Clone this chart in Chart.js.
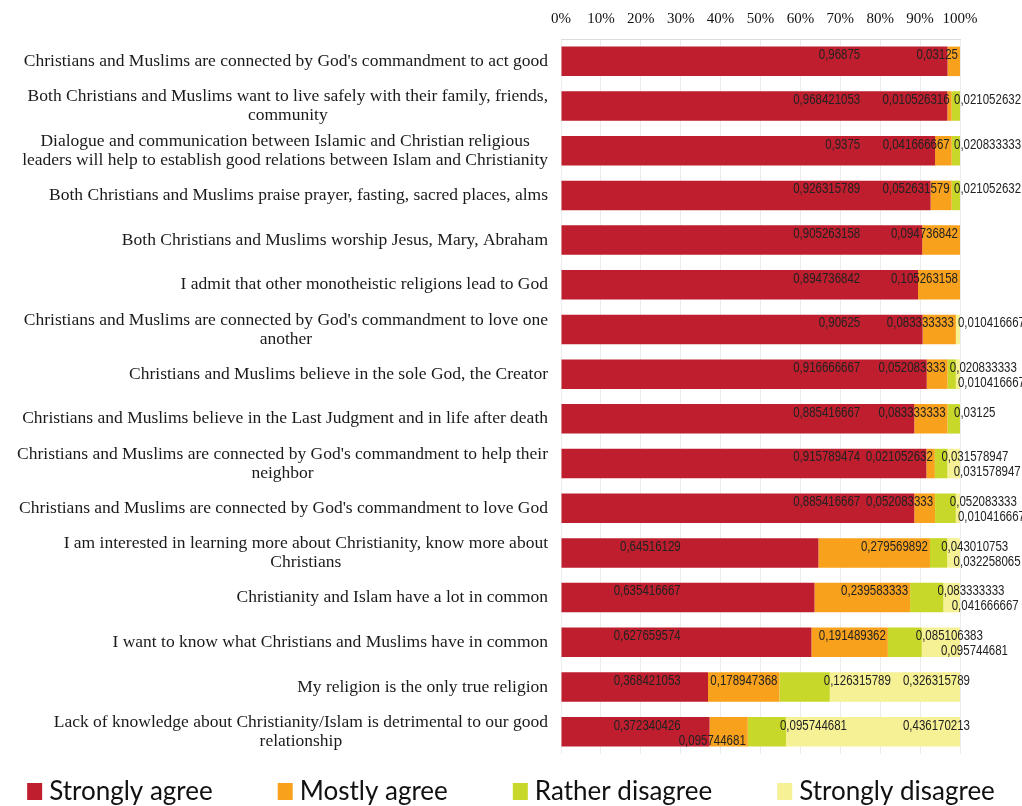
<!DOCTYPE html>
<html>
<head>
<meta charset="utf-8">
<script src="https://cdn.jsdelivr.net/npm/chart.js@4"></script>
<style>
  html, body { margin: 0; padding: 0; background: #fff; }
  #wrap { width: 1022px; height: 806px; }
</style>
</head>
<body>
<div id="wrap"><canvas id="chart" width="1022" height="806"></canvas></div>
<script>
const categories = [
  "Christians and Muslims are connected by God's commandment to act good",
  ["Both Christians and Muslims want to live safely with their family, friends,", "community"],
  ["Dialogue and communication between Islamic and Christian religious", "leaders will help to establish good relations between Islam and Christianity"],
  "Both Christians and Muslims praise prayer, fasting, sacred places, alms",
  "Both Christians and Muslims worship Jesus, Mary, Abraham",
  "I admit that other monotheistic religions lead to God",
  ["Christians and Muslims are connected by God's commandment to love one", "another"],
  "Christians and Muslims believe in the sole God, the Creator",
  "Christians and Muslims believe in the Last Judgment and in life after death",
  ["Christians and Muslims are connected by God's commandment to help their", "neighbor"],
  "Christians and Muslims are connected by God's commandment to love God",
  ["I am interested in learning more about Christianity, know more about", "Christians"],
  "Christianity and Islam have a lot in common",
  "I want to know what Christians and Muslims have in common",
  "My religion is the only true religion",
  ["Lack of knowledge about Christianity/Islam is detrimental to our good", "relationship"]
];

const stronglyAgree = [0.96875, 0.968421053, 0.9375, 0.926315789, 0.905263158, 0.894736842, 0.90625, 0.916666667,
  0.885416667, 0.915789474, 0.885416667, 0.64516129, 0.635416667, 0.627659574, 0.368421053, 0.372340426];
const mostlyAgree = [0.03125, 0.010526316, 0.041666667, 0.052631579, 0.094736842, 0.105263158, 0.083333333, 0.052083333,
  0.083333333, 0.021052632, 0.052083333, 0.279569892, 0.239583333, 0.191489362, 0.178947368, 0.095744681];
const ratherDisagree = [0, 0.021052632, 0.020833333, 0.021052632, 0, 0, 0, 0.020833333,
  0.03125, 0.031578947, 0.052083333, 0.043010753, 0.083333333, 0.085106383, 0.126315789, 0.095744681];
const stronglyDisagree = [0, 0, 0, 0, 0, 0, 0.010416667, 0.010416667,
  0, 0.031578947, 0.010416667, 0.032258065, 0.041666667, 0.095744681, 0.326315789, 0.436170213];

const seriesNames = ['Strongly agree', 'Mostly agree', 'Rather disagree', 'Strongly disagree'];
const seriesColors = ['#be1e2d', '#f8a11c', '#c8d82a', '#f6f194'];
const tickLabels = ['0%', '10%', '20%', '30%', '40%', '50%', '60%', '70%', '80%', '90%', '100%'];

const serif = '"Liberation Serif", "Times New Roman", serif';
const sans = '"Liberation Sans", Arial, sans-serif';
const squeeze = 0.82; // fake a narrow face for the value labels

// category text, drawn by hand so that two-line labels are centred in their own block
const categoryLabels = {
  id: 'categoryLabels',
  afterDraw(chart) {
    const ctx = chart.ctx;
    const ys = chart.scales.y;
    const rightEdge = chart.chartArea.left - 13;
    ctx.save();
    ctx.font = '17.5px ' + serif;
    ctx.fillStyle = '#1a1a1a';
    ctx.textAlign = 'center';
    ctx.textBaseline = 'middle';
    categories.forEach((c, i) => {
      const lines = Array.isArray(c) ? c : [c];
      const w = Math.max(...lines.map(l => ctx.measureText(l).width));
      const cx = rightEdge - w / 2;
      const y = ys.getPixelForValue(i);
      const lh = 19;
      lines.forEach((l, k) => {
        ctx.fillText(l, cx, y + (k - (lines.length - 1) / 2) * lh);
      });
    });
    ctx.restore();
  }
};

// value labels in the Excel style of the original
const barLabels = {
  id: 'barLabels',
  afterDatasetsDraw(chart) {
    const ctx = chart.ctx;
    const xs = chart.scales.x;
    ctx.save();
    ctx.font = '14px ' + sans;
    ctx.fillStyle = '#222';
    ctx.textAlign = 'left';
    ctx.textBaseline = 'middle';
    categories.forEach((c, i) => {
      let prevRight = -Infinity;
      chart.data.datasets.forEach((ds, d) => {
        const v = ds.data[i];
        if (!v) return;
        const bar = chart.getDatasetMeta(d).data[i];
        const txt = String(v).replace('.', ',');
        const w = ctx.measureText(txt).width * squeeze;
        const left = Math.min(bar.base, bar.x);
        const right = Math.max(bar.base, bar.x);
        let x0;
        if (d === 0) x0 = xs.getPixelForValue(v >= 0.8 ? 0.75 : 0.3) - w;
        else if (d === 1) x0 = right - 2 - w;
        else if (d === 2) x0 = right - 6;
        else x0 = Math.max((left + right) / 2, xs.right + 10 - w);
        let y = bar.y - 6;
        if (x0 < prevRight + 4) y = bar.y + 9;
        else prevRight = x0 + w;
        ctx.save();
        ctx.translate(x0, y);
        ctx.scale(squeeze, 1);
        ctx.fillText(txt, 0, 0);
        ctx.restore();
      });
    });
    ctx.restore();
  }
};

// legend row along the bottom
const bottomLegend = {
  id: 'bottomLegend',
  afterDraw(chart) {
    const ctx = chart.ctx;
    ctx.save();
    ctx.font = '26px Lato, "Open Sans", sans-serif';
    ctx.textBaseline = 'middle';
    const box = 15, gap = 7, spacing = 65;
    const widths = seriesNames.map(n => box + gap + ctx.measureText(n).width);
    const total = widths.reduce((a, b) => a + b, 0) + spacing * (widths.length - 1);
    let x = (chart.width - total) / 2;
    const y = 792;
    seriesNames.forEach((n, k) => {
      ctx.fillStyle = seriesColors[k];
      ctx.fillRect(x, y - 9, box, 17);
      ctx.fillStyle = '#111';
      ctx.fillText(n, x + box + gap, y);
      x += widths[k] + spacing;
    });
    ctx.restore();
  }
};

const seriesData = [stronglyAgree, mostlyAgree, ratherDisagree, stronglyDisagree];

new Chart(document.getElementById('chart'), {
  type: 'bar',
  data: {
    labels: categories,
    datasets: seriesNames.map((n, k) => ({
      label: n,
      data: seriesData[k],
      backgroundColor: seriesColors[k],
      borderWidth: 0,
      barPercentage: 0.66,
      categoryPercentage: 1
    }))
  },
  options: {
    indexAxis: 'y',
    responsive: false,
    animation: false,
    layout: { padding: { top: 0, right: 62, bottom: 52, left: 0 } },
    plugins: {
      legend: { display: false },
      tooltip: { enabled: false }
    },
    scales: {
      x: {
        position: 'top',
        stacked: true,
        min: 0,
        max: 1,
        afterFit(scale) { scale.height = 39; },
        afterBuildTicks(scale) {
          scale.ticks = tickLabels.map((t, k) => ({ value: k / 10 }));
        },
        ticks: {
          padding: 11,
          autoSkip: false,
          maxRotation: 0,
          minRotation: 0,
          color: '#111',
          font: { family: serif, size: 15 },
          callback: (v, k) => tickLabels[k]
        },
        grid: { color: '#ececec', drawTicks: false },
        border: { color: '#dcdcdc' }
      },
      y: {
        stacked: true,
        afterFit(scale) { scale.width = 561; },
        ticks: { display: false },
        grid: { display: false },
        border: { display: false }
      }
    }
  },
  plugins: [categoryLabels, barLabels, bottomLegend]
});
</script>
</body>
</html>
